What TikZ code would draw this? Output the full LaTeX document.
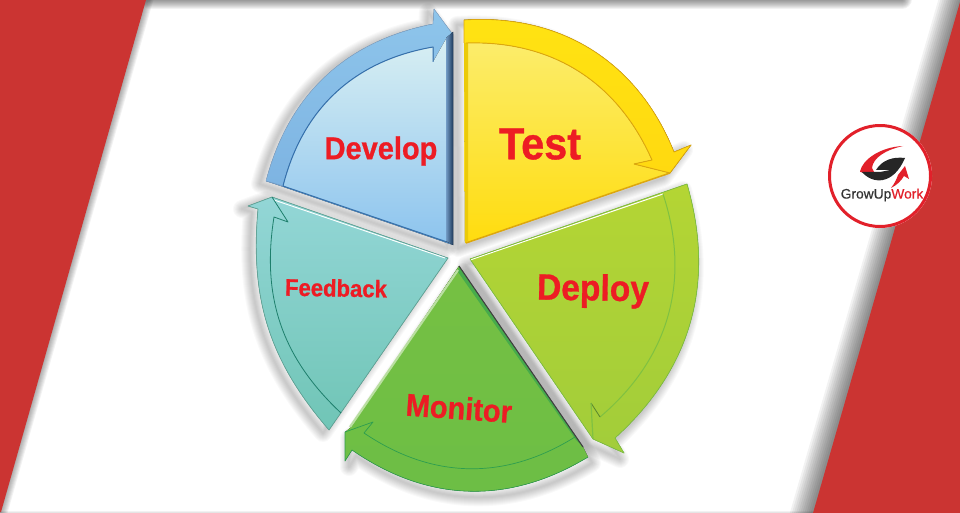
\documentclass[tikz,border=0pt]{standalone}
\usepackage{fontspec}
\setmainfont{Liberation Sans}
\newfontfamily\wordfont{Liberation Sans Bold}[FakeBold=0.8,FakeStretch=0.92]
\newfontfamily\brandfont{Liberation Sans}[FakeBold=0.5]
\usetikzlibrary{positioning}

\definecolor{redbar}{HTML}{CB3432}
\definecolor{labelred}{HTML}{ED1C24}
\definecolor{ringred}{HTML}{E2202A}
\definecolor{devtop}{HTML}{D8EFF3}
\definecolor{devbot}{HTML}{8DC4EE}
\definecolor{devband}{HTML}{8EC5EB}
\definecolor{devband2}{HTML}{78AEDF}
\definecolor{devline}{HTML}{3570AC}
\definecolor{devdark}{HTML}{1E3A5C}
\definecolor{testtop}{HTML}{FBEF78}
\definecolor{testbot}{HTML}{FFDC0E}
\definecolor{testband}{HTML}{FFE312}
\definecolor{testline}{HTML}{DDA70E}
\definecolor{deptop}{HTML}{B4D534}
\definecolor{depbot}{HTML}{A2CD3A}
\definecolor{depline}{HTML}{7FC141}
\definecolor{montop}{HTML}{76C043}
\definecolor{monbot}{HTML}{6CBE45}
\definecolor{monline}{HTML}{2E9E4F}
\definecolor{fedtop}{HTML}{93D6D6}
\definecolor{fedbot}{HTML}{70C5B6}
\definecolor{fedline}{HTML}{1E7F6C}

% outlines of the five pieces, used for the piece and for its shadow
\def\developpath{(266,181) to[bend left=32] (433,24) -- (434,9) -- (451,32) -- (453,34) -- (453,245) -- cycle}
\def\testpath{(464,20) to[bend left=36] (674,152) -- (691,145) -- (670,173) -- (465,243) -- (464,43) -- cycle}
\def\deploypath{(470,259) -- (687,184) to[bend left=32] (615,438) -- (624,453) -- (593,439) -- cycle}
\def\monitorpath{(459,266) -- (583,447) -- (588,457) to[bend left=33] (352,450) -- (345,461) -- (345,432) -- (350,428) -- cycle}
\def\feedbackpath{(448,258) -- (329,430) to[bend left=23] (258,209) -- (248,206) -- (272,197) -- cycle}

\begin{document}
\begin{tikzpicture}[x=1pt,y=-1pt,line join=round]
\tikzstyle{soft}=[black,draw opacity=0.05,fill opacity=0.05]
\tikzstyle{softfar}=[black,draw opacity=0.022,fill opacity=0.022]
\tikzstyle{word}=[text=labelred,inner sep=0pt]

\useasboundingbox (0,0) rectangle (960,513);
\clip (0,0) rectangle (960,513);
\fill[white] (0,0) rectangle (960,513);

% band shadows
\foreach \w in {2,4,...,20} \draw[soft,line width=\w pt,line cap=round] (150,-1) -- (902,-1);
\foreach \w in {4,8,...,44} \draw[soft,line width=\w pt] (962,-3) -- (811,519);
\foreach \w in {2,4,...,14} \draw[soft,line width=\w pt] (147,-3) -- (0,514);
\foreach \w in {2,4} \draw[soft,line width=\w pt] (0,513) -- (815,513);

\fill[redbar] (0,0) -- (146,0) -- (1,512) -- (0,512) -- cycle;
\fill[redbar] (960,2) -- (813,513) -- (960,513) -- cycle;

% piece shadows
\foreach \w in {2,4,...,18} {
  \path[softfar,draw,line width=\w pt,shift={(-6,3)}] \developpath;
  \path[softfar,draw,line width=\w pt,shift={(-7,5)}] \testpath;
  \path[softfar,draw,line width=\w pt,shift={(-4,6)}] \deploypath;
  \path[softfar,draw,line width=\w pt,shift={(4,6)}] \monitorpath;
  \path[softfar,draw,line width=\w pt,shift={(-6,3)}] \feedbackpath;
}

% develop
\fill[top color=devband,bottom color=devband2] \developpath;
\fill[top color=devtop,bottom color=devbot] (283,186) to[bend left=33] (433,47) -- (433,62) -- (446,39) -- (446,242) -- cycle;
\draw[devline,line width=1pt] (433,62) -- (433,47) to[bend right=33] (283,186) -- (450,243);
\draw[devline!60,line width=0.5pt] (266,181) to[bend left=32] (433,24) -- (434,9) -- (451,32);
\draw[devline!70,line width=0.7pt] (266,181) -- (283,186);
\fill[left color=devline!70,right color=devdark] (446,38) -- (453,32) -- (453,245) -- (446,241) -- cycle;

% test
\fill[top color=testtop,bottom color=testbot] \testpath;
\fill[top color=testband,bottom color=testband!90!orange] (464,20) to[bend left=36] (674,152) -- (691,145) -- (670,173) -- (634,164) -- (652,160) to[bend right=34] (466,43) -- (464,43) -- cycle;
\fill[testline!60!yellow] (464,43) -- (468,43) -- (468,241) -- (465,243) -- cycle;
\draw[testline,line width=0.7pt] (464,43) -- (464,20) to[bend left=36] (674,152) -- (691,145) -- (670,173);
\draw[testline,line width=0.9pt] (466,43) to[bend left=34] (652,160) -- (634,164) -- (670,173);
\draw[testline,line width=1.5pt] (670,173) -- (466,243);

% deploy
\fill[top color=deptop,bottom color=depbot] \deploypath;
\draw[white,line width=1pt] (470,260) -- (663,194);
\draw[depline,line width=0.7pt] (470,259) -- (687,184) to[bend left=32] (615,438) -- (624,453) -- (593,439) -- cycle;
\draw[depline,line width=1pt] (663,194) to[bend left=34] (600,417);
\draw[depline!70!black,line width=0.8pt] (600,417) -- (591,403);
\draw[depline,line width=1.2pt] (591,403) -- (593,439);

% monitor
\fill[top color=montop,bottom color=monbot] \monitorpath;
\fill[monline!60!monbot] (459,266) -- (583,447) -- (576,440) -- (458,272) -- cycle;
\draw[black!75,line width=1.1pt] (459,266) -- (583,447);
\draw[montop!50!white,line width=2.2pt] (458,270) -- (350,427);
\draw[monline,line width=0.7pt] (575,437) to[bend left=33] (364,433) -- (373,422) -- (345,432);
\draw[monline,line width=0.6pt] (588,457) to[bend left=33] (352,450) -- (345,461) -- (345,432);

% feedback
\fill[top color=fedtop,bottom color=fedbot] \feedbackpath;
\draw[fedline!70,line width=0.7pt] \feedbackpath;
\draw[white,line width=0.9pt] (274,200) -- (445,258);
\draw[fedline,line width=0.8pt] (341,413) to[bend left=28] (274,217) -- (288,222) -- (272,197);

% logo
\fill[white] (880,176) circle (52);
\draw[ringred,line width=3pt] (880,176) circle (50.5);
\fill[ringred] (903,146) .. controls (880,147) and (862,160) .. (860,171.7) -- (877,178) -- (872,168) .. controls (873,158) and (885,150) .. (903,146) -- cycle;
\fill[black!85] (905,158) .. controls (893,156.5) and (882,160) .. (876,170) -- (890,170) -- (880,172) -- (862,172) .. controls (872,184) and (893,186) .. (905,158) -- cycle;
\fill[ringred] (905,166) -- (909,179) -- (904,176) .. controls (901,181) and (897,185) .. (891,188) .. controls (895,183) and (897,178) .. (898,175) -- cycle;

% labels
\node[word,font=\wordfont\fontsize{31.5}{32}\selectfont] (develop) at (381,151) {Develop};
\node[word,font=\wordfont\fontsize{45}{45}\selectfont] (test) at (540,144) {Test};
\node[word,font=\wordfont\fontsize{36.5}{37}\selectfont,rotate=-1] (deploy) at (593,291) {Deploy};
\node[word,font=\wordfont\fontsize{31.5}{32}\selectfont,rotate=-4] (monitor) at (459,408) {Monitor};
\node[word,font=\wordfont\fontsize{24}{24}\selectfont,rotate=-1] (feedback) at (336,288) {Feedback};
\node[inner sep=0pt,font=\brandfont\fontsize{13.8}{14}\selectfont] (brand) at (882,195) {\textcolor{black!80}{GrowUp}\textcolor{ringred}{Work}};
\end{tikzpicture}
\end{document}
